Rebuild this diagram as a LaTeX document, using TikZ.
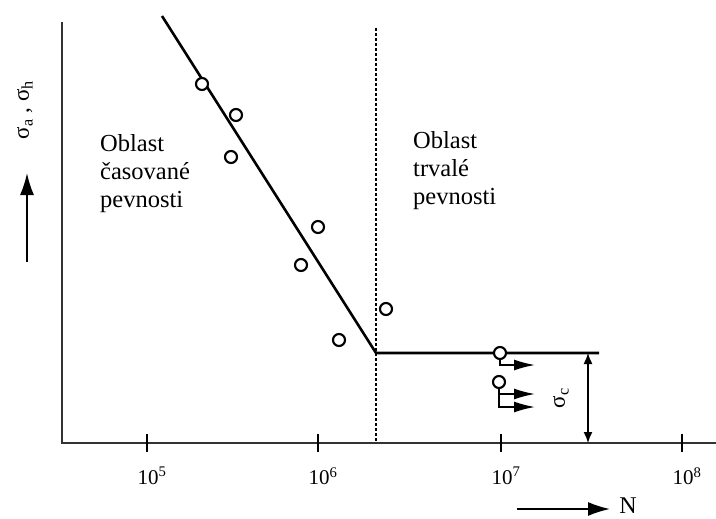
\documentclass[tikz,border=0pt]{standalone}
\usepackage{fontspec}
\setmainfont{Liberation Serif}
\usetikzlibrary{arrows.meta}
\begin{document}
\begin{tikzpicture}[x=1pt,y=-1pt,
  axis/.style={line width=2pt, draw=black!80},
  curve/.style={line width=2.6pt},
  pt/.style={circle, draw, line width=2.1pt, minimum size=12pt, inner sep=0pt, fill=white},
  lbl/.style={font=\fontsize{24.5}{28}\selectfont, align=left, inner sep=0pt},
  tickmark/.style={line width=1.6pt},
  ticklbl/.style={font=\fontsize{21}{24}\selectfont, inner sep=0pt},
  bigarr/.style={-{Latex[length=22pt,width=14pt]}, line width=1.8pt},
  dimarr/.style={{Latex[length=11pt,width=9pt]}-{Latex[length=11pt,width=9pt]}, line width=1.4pt},
  runout/.style={-{Latex[length=21pt,width=11pt]}, line width=1.7pt},
  boundary/.style={line width=1.3pt, dash pattern=on 3pt off 2pt},
]
\useasboundingbox (0,0) rectangle (716,519);
% axes
\coordinate (ytop) at (62,22);
\coordinate (O) at (62,443);
\coordinate (xend) at (716,443);
\draw[axis] (ytop) -- (O) -- (xend);
\foreach \x/\e in {147/5,318/6,501/7,682/8}{
  \draw[tickmark] (\x,434) -- (\x,452);
  \node[ticklbl] (t\e) at (\x+5,476) {10\textsuperscript{\e}};
}
% boundary
\coordinate (btop) at (376,28);
\coordinate (bbot) at (376,443);
\draw[boundary] (btop) -- (bbot);
% S-N curve
\coordinate (top) at (162,16);
\coordinate (knee) at (376,353);
\coordinate (end) at (599,353);
\draw[curve] (top) -- (knee) -- (end);
% data points
\node[pt] (c1) at (202,84) {};
\node[pt] (c2) at (236,115) {};
\node[pt] (c3) at (231,157) {};
\node[pt] (c4) at (318,227) {};
\node[pt] (c5) at (301,265) {};
\node[pt] (c6) at (339,340) {};
\node[pt] (c7) at (386,309) {};
\node[pt] (c8) at (500,353) {};
\node[pt] (c9) at (499,382) {};
% run-outs
\coordinate (r8) at (535,365);
\coordinate (r9a) at (535,394);
\coordinate (r9b) at (535,407);
\draw[runout] (c8.south) |- (r8);
\draw[runout] (c9.south) |- (r9a);
\draw[runout] (c9.south) |- (r9b);
% sigma_c
\coordinate (sct) at (588,353);
\coordinate (scb) at (588,443);
\draw[dimarr] (sct) -- (scb);
\node[rotate=90, font=\fontsize{23}{24}\selectfont] (sc) at (561,398) {σ\textsubscript{c}};
% region labels
\node[lbl, anchor=west] (r1) at (100,174) {Oblast\\časované\\pevnosti};
\node[lbl, anchor=west] (r2) at (413,171) {Oblast\\trvalé\\pevnosti};
% axis labels
\coordinate (ya) at (27,262);
\coordinate (yb) at (27,173);
\draw[bigarr] (ya) -- (yb);
\node[rotate=90, font=\fontsize{23}{24}\selectfont] (ylab) at (25,110) {σ\textsubscript{a} , σ\textsubscript{h}};
\coordinate (xa) at (517,509);
\coordinate (xb) at (610,509);
\draw[bigarr] (xa) -- (xb);
\node[font=\fontsize{24}{26}\selectfont, inner sep=0pt] (xlab) at (628,506) {N};
\end{tikzpicture}
\end{document}
